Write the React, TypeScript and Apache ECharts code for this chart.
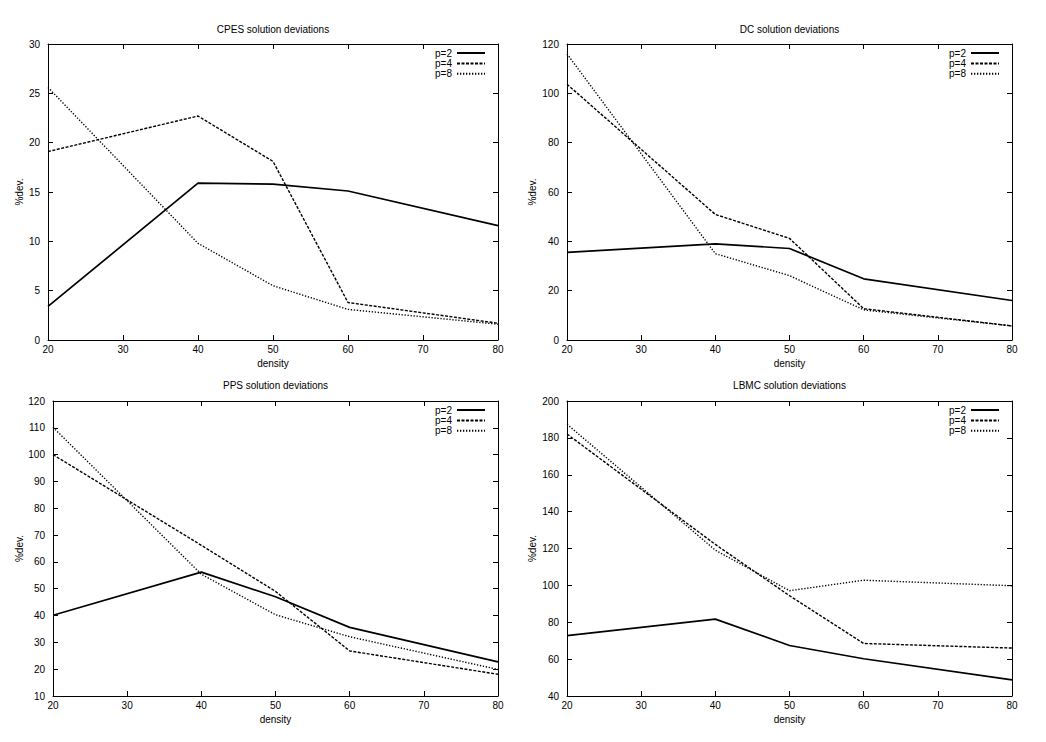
import React, { useEffect, useRef } from "react";
import * as echarts from "echarts";

const densities = [20, 40, 50, 60, 80];
const seriesNames = ["p=2", "p=4", "p=8"];

const cpesP2 = [3.4, 15.9, 15.8, 15.1, 11.6];
const cpesP4 = [19.1, 22.7, 18.1, 3.8, 1.7];
const cpesP8 = [25.6, 9.8, 5.5, 3.1, 1.6];

const dcP2 = [35.5, 39.0, 37.1, 24.8, 16.0];
const dcP4 = [103.7, 50.9, 41.2, 12.7, 5.7];
const dcP8 = [116.0, 35.0, 26.1, 12.2, 5.7];

const ppsP2 = [40.1, 56.2, 47.0, 35.6, 22.7];
const ppsP4 = [100.0, 66.2, 49.0, 26.8, 18.1];
const ppsP8 = [110.2, 55.4, 40.3, 32.1, 19.9];

const lbmcP2 = [72.7, 81.7, 67.4, 60.2, 48.7];
const lbmcP4 = [182.1, 122.2, 94.4, 68.5, 66.0];
const lbmcP8 = [187.4, 119.1, 97.1, 102.8, 99.8];

const titles = [
  "CPES solution deviations",
  "DC solution deviations",
  "PPS solution deviations",
  "LBMC solution deviations",
];
const yMins = [0, 0, 10, 40];
const yMaxs = [30, 120, 120, 200];
const yIntervals = [5, 20, 10, 20];
const allData = [
  [cpesP2, cpesP4, cpesP8],
  [dcP2, dcP4, dcP8],
  [ppsP2, ppsP4, ppsP8],
  [lbmcP2, lbmcP4, lbmcP8],
];

const FONT = "Liberation Sans, Arial, Helvetica, sans-serif";

const grids = [
  { left: 48, top: 44, width: 450, height: 296 },
  { left: 567, top: 44, width: 445, height: 296 },
  { left: 53, top: 401, width: 445, height: 295 },
  { left: 567, top: 401, width: 445, height: 295 },
];
const yNameGaps = [24, 30, 29, 30];
const titleTops = [24, 24, 380, 380];
const legendRights = [560, 46, 560, 46];
const legendTops = [48, 48, 405, 405];

const lineStyles = [
  { width: 1.7, type: "solid" as any },
  { width: 1.4, type: [3, 1.5] as any },
  { width: 1.4, type: [1.3, 1.7] as any },
];

export default function App() {
  const ref = useRef<HTMLDivElement>(null);
  useEffect(() => {
    if (!ref.current) return;
    const chart = echarts.init(ref.current, null, { renderer: "svg" });
    const textStyle = { color: "#000", fontSize: 10, fontFamily: FONT };
    const xAxes: any[] = [];
    const yAxes: any[] = [];
    const series: any[] = [];
    const title: any[] = [];
    const legend: any[] = [];
    grids.forEach((g, i) => {
      title.push({
        text: titles[i],
        left: g.left + g.width / 2,
        top: titleTops[i],
        textAlign: "center",
        padding: 0,
        textStyle: { ...textStyle, fontWeight: "normal" },
      });
      legend.push({
        data: seriesNames,
        orient: "vertical",
        align: "right",
        right: legendRights[i],
        top: legendTops[i],
        padding: 0,
        itemWidth: 28,
        itemHeight: 10,
        itemGap: 0.4,
        itemStyle: { opacity: 0, color: "transparent", borderWidth: 0 },
        textStyle: { ...textStyle, lineHeight: 10 },
        selectedMode: false,
      });
      const axisCommon = {
        gridIndex: i,
        type: "value",
        axisLine: { show: true, onZero: false, lineStyle: { color: "#000", width: 1 } },
        axisTick: { show: true, inside: true, length: 5, lineStyle: { color: "#000", width: 1 } },
        splitLine: { show: false },
      };
      xAxes.push({
        ...axisCommon,
        position: "bottom",
        min: 20,
        max: 80,
        interval: 10,
        axisLabel: { ...textStyle, margin: 4 },
        name: "density",
        nameLocation: "middle",
        nameGap: 18,
        nameTextStyle: textStyle,
      });
      xAxes.push({
        ...axisCommon,
        position: "top",
        min: 20,
        max: 80,
        interval: 10,
        axisLabel: { show: false },
      });
      yAxes.push({
        ...axisCommon,
        position: "left",
        min: yMins[i],
        max: yMaxs[i],
        interval: yIntervals[i],
        axisLabel: { ...textStyle, margin: 8 },
        name: "%dev.",
        nameLocation: "middle",
        nameGap: yNameGaps[i],
        nameRotate: 90,
        nameTextStyle: textStyle,
      });
      yAxes.push({
        ...axisCommon,
        position: "right",
        min: yMins[i],
        max: yMaxs[i],
        interval: yIntervals[i],
        axisLabel: { show: false },
      });
      allData[i].forEach((vals, k) => {
        series.push({
          type: "line",
          name: seriesNames[k],
          xAxisIndex: 2 * i,
          yAxisIndex: 2 * i,
          symbol: "none",
          data: densities.map((d, j) => [d, vals[j]]),
          lineStyle: { color: "#000", ...lineStyles[k] },
          itemStyle: { color: "#000" },
          z: 3 - k,
        });
      });
    });
    chart.setOption({
      animation: false,
      backgroundColor: "#fff",
      title,
      legend,
      grid: grids,
      xAxis: xAxes,
      yAxis: yAxes,
      series,
    });
    return () => chart.dispose();
  }, []);
  return (
    <div
      ref={ref}
      style={{ position: "fixed", left: 0, top: 0, width: 1046, height: 742, background: "#fff" }}
    />
  );
}
